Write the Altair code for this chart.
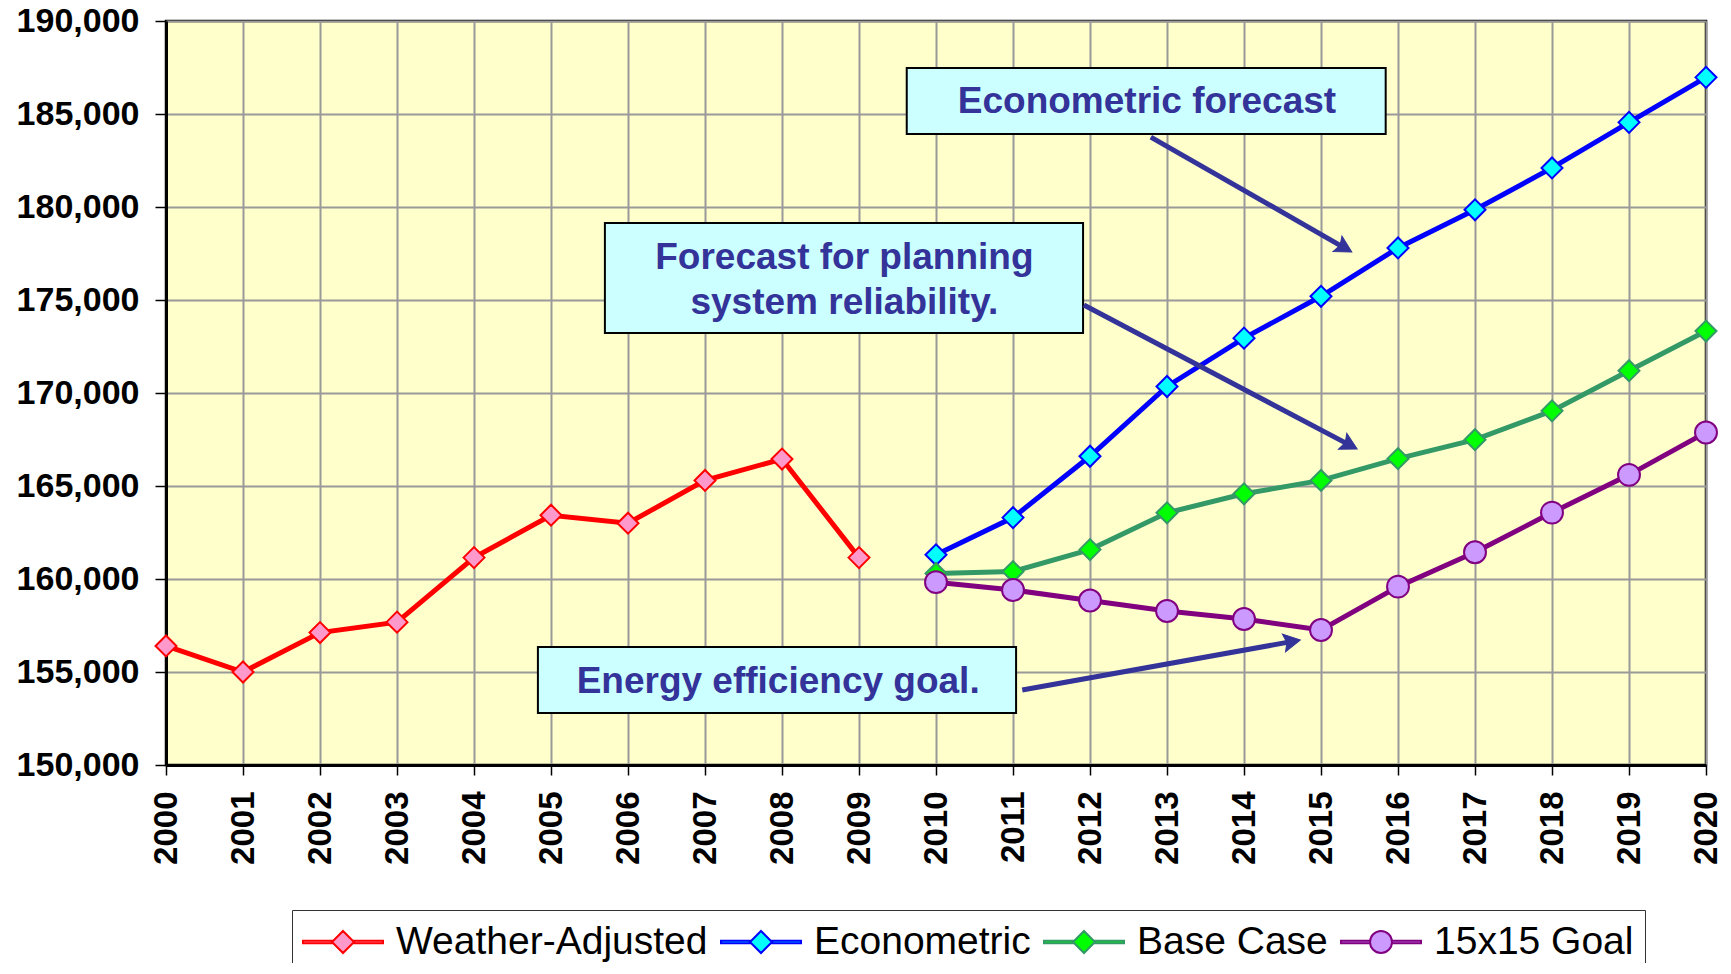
import math
import altair as alt
import pandas as pd

# ---------------- data ----------------
years_hist = list(range(2000, 2010))
weather_adjusted = [156400, 155000, 157120, 157680, 161150, 163430, 163000, 165300, 166450, 161150]

years_fc = list(range(2010, 2021))
econometric = [161300, 163300, 166600, 170350, 172950, 175200, 177800, 179850, 182100, 184550, 186970]
base_case = [160300, 160400, 161580, 163560, 164580, 165300, 166470, 167490, 169040, 171200, 173330]
goal_15x15 = [159830, 159410, 158840, 158280, 157850, 157260, 159590, 161440, 163570, 165600, 167880]

series_names = ["Weather-Adjusted", "Econometric", "Base Case", "15x15 Goal"]
line_colors = ["#FF0000", "#0000FF", "#339966", "#800080"]
marker_fills = ["#FF99CC", "#00FFFF", "#00FF00", "#CC99FF"]

year_ticks = list(range(2000, 2021))
value_ticks = list(range(150000, 190001, 5000))

# annotations (data coordinates)
box_x1 = [2009.62, 2005.70, 2004.83]
box_x2 = [2015.84, 2011.91, 2011.04]
box_y1 = [187470, 179140, 156340]
box_y2 = [183930, 173230, 152800]

label_text = ["Econometric forecast", "Forecast for planning", "system reliability.", "Energy efficiency goal."]
label_x = [2012.74, 2008.81, 2008.81, 2007.95]
label_y = [185650, 177250, 174850, 154480]

arrow_x1 = [2012.79, 2011.92, 2011.12]
arrow_y1 = [183760, 174730, 154030]
arrow_x2 = [2015.40, 2015.47, 2014.73]
arrow_y2 = [177580, 166990, 156720]

# ---------------- layout ----------------
W, H = 1540, 744
X_DOM = [2000, 2020]
Y_DOM = [150000, 190000]
PX_X = W / (X_DOM[1] - X_DOM[0])
PX_Y = H / (Y_DOM[1] - Y_DOM[0])
FONT = "Liberation Sans"

rows = []
for s, xs, vs in [
    ("Weather-Adjusted", years_hist, weather_adjusted),
    ("Econometric", years_fc, econometric),
    ("Base Case", years_fc, base_case),
    ("15x15 Goal", years_fc, goal_15x15),
]:
    for x, v in zip(xs, vs):
        rows.append({"year": x, "value": v, "series": s})
df = pd.DataFrame(rows)

boxes = pd.DataFrame({"x1": box_x1, "x2": box_x2, "y1": box_y1, "y2": box_y2})
labels = pd.DataFrame({"text": label_text, "x": label_x, "y": label_y})

# arrow heads
HEAD_SIZE = 900
head_r = math.sqrt(HEAD_SIZE) / 2
sx2, sy2, hx, hy, ang = [], [], [], [], []
for x1, y1, x2, y2 in zip(arrow_x1, arrow_y1, arrow_x2, arrow_y2):
    dx = (x2 - x1) * PX_X
    dy = -(y2 - y1) * PX_Y
    L = math.hypot(dx, dy)
    ux, uy = dx / L, dy / L
    cx = x2 - head_r * ux / PX_X
    cy = y2 + head_r * uy / PX_Y
    hx.append(cx)
    hy.append(cy)
    sx2.append(x2 - 0.7 * head_r * ux / PX_X)
    sy2.append(y2 + 0.7 * head_r * uy / PX_Y)
    a = math.degrees(math.atan2(uy, ux)) + 90
    ang.append(a % 360)
arrows = pd.DataFrame({"x1": arrow_x1, "y1": arrow_y1, "x2": sx2, "y2": sy2})
heads = pd.DataFrame({"x": hx, "y": hy, "ang": ang})

stealth = "M0,-1L0.6,0.1L0,-0.1L-0.6,0.1Z"

bars = "M-2,-0.06L-0.55,-0.06L-0.55,0.06L-2,0.06Z M0.55,-0.06L2,-0.06L2,0.06L0.55,0.06Z "
diamond_sym = bars + "M0,-0.55L0.55,0L0,0.55L-0.55,0Z"
circle_sym = bars + "M0.55,0A0.55,0.55,0,1,1,-0.55,0A0.55,0.55,0,1,1,0.55,0Z"
legend_shapes = [diamond_sym, diamond_sym, diamond_sym, circle_sym]

# ---------------- scales / axes ----------------
xscale = alt.Scale(domain=X_DOM, nice=False, zero=False)
yscale = alt.Scale(domain=Y_DOM, nice=False, zero=False)
stroke_scale = alt.Scale(domain=series_names, range=line_colors)
fill_scale = alt.Scale(domain=series_names, range=marker_fills)
shape_scale = alt.Scale(domain=series_names, range=legend_shapes)

x_axis = alt.Axis(
    values=year_ticks, title=None, labelAngle=270,
    labelExpr="format(datum.value, 'd')",
    labelFont=FONT, labelFontSize=33, labelFontWeight="bold", labelColor="black",
    labelPadding=16, labelFlush=False, labelOverlap=False,
    tickSize=10, tickColor="black", tickWidth=1.5,
    domainColor="black", domainWidth=3,
    grid=True, gridColor="#999999", gridWidth=2,
)
y_axis = alt.Axis(
    values=value_ticks, title=None,
    labelExpr="format(datum.value, ',')",
    labelFont=FONT, labelFontSize=34, labelFontWeight="bold", labelColor="black",
    labelPadding=16, labelFlush=False, labelOverlap=False,
    tickSize=11, tickColor="black", tickWidth=1.5,
    domainColor="black", domainWidth=3,
    grid=True, gridColor="#999999", gridWidth=2,
)

X = alt.X("year:Q", scale=xscale, axis=x_axis)
Y = alt.Y("value:Q", scale=yscale, axis=y_axis)

legend = alt.Legend(
    title=None, orient="none", legendX=126, legendY=889, direction="horizontal", columns=4,
    symbolSize=1600, symbolStrokeWidth=2, symbolOffset=19, labelOffset=32, symbolOpacity=1,
    labelFont=FONT, labelFontSize=39, labelColor="black", labelLimit=600,
    columnPadding=9, padding=11, strokeColor="#333333", fillColor="white",
)

base = alt.Chart(df)

# legend-only layer (first, so its legend settings win when merged; no rows survive the filter)
legend_layer = base.transform_filter("false").mark_point(filled=True, opacity=1).encode(
    x=X, y=Y,
    fill=alt.Fill("series:N", scale=fill_scale, legend=legend),
    stroke=alt.Stroke("series:N", scale=stroke_scale, legend=legend),
    shape=alt.Shape("series:N", scale=shape_scale, legend=legend),
)

lines = base.mark_line(strokeWidth=5).encode(
    x=X, y=Y, stroke=alt.Stroke("series:N", scale=stroke_scale, legend=None)
)

diamonds = base.transform_filter(alt.datum.series != "15x15 Goal").mark_point(
    shape="diamond", filled=True, size=440, strokeWidth=2, opacity=1
).encode(
    x=X, y=Y,
    fill=alt.Fill("series:N", scale=fill_scale, legend=None),
    stroke=alt.Stroke("series:N", scale=stroke_scale, legend=None),
)

circles = base.transform_filter(alt.datum.series == "15x15 Goal").mark_point(
    shape="circle", filled=True, size=480, strokeWidth=2, opacity=1
).encode(
    x=X, y=Y,
    fill=alt.Fill("series:N", scale=fill_scale, legend=None),
    stroke=alt.Stroke("series:N", scale=stroke_scale, legend=None),
)

box_layer = alt.Chart(boxes).mark_rect(fill="#CCFFFF", stroke="black", strokeWidth=2).encode(
    x=alt.X("x1:Q", scale=xscale, axis=x_axis), x2="x2:Q",
    y=alt.Y("y1:Q", scale=yscale, axis=y_axis), y2="y2:Q",
)

text_layer = alt.Chart(labels).mark_text(
    font=FONT, fontSize=37, fontWeight="bold", color="#333399", align="center", baseline="middle"
).encode(
    x=alt.X("x:Q", scale=xscale, axis=x_axis),
    y=alt.Y("y:Q", scale=yscale, axis=y_axis),
    text="text:N",
)

arrow_layer = alt.Chart(arrows).mark_rule(color="#333399", strokeWidth=5).encode(
    x=alt.X("x1:Q", scale=xscale, axis=x_axis), x2="x2:Q",
    y=alt.Y("y1:Q", scale=yscale, axis=y_axis), y2="y2:Q",
)

head_layer = alt.Chart(heads).mark_point(
    shape=stealth, filled=True, fill="#333399", stroke="#333399", strokeWidth=1, size=HEAD_SIZE, opacity=1
).encode(
    x=alt.X("x:Q", scale=xscale, axis=x_axis),
    y=alt.Y("y:Q", scale=yscale, axis=y_axis),
    angle=alt.Angle("ang:Q", scale=None),
)

chart = alt.layer(
    legend_layer, lines, diamonds, circles, box_layer, text_layer, arrow_layer, head_layer
).properties(
    width=W, height=H,
    autosize=alt.AutoSizeParams(type="none"),
    padding={"left": 158, "top": 13, "right": 17, "bottom": 198},
    background="white",
).configure_view(
    fill="#FFFFCC", stroke="black", strokeWidth=2.5
)

chart.save("out.html", embed_options={"renderer": "svg", "actions": False})
